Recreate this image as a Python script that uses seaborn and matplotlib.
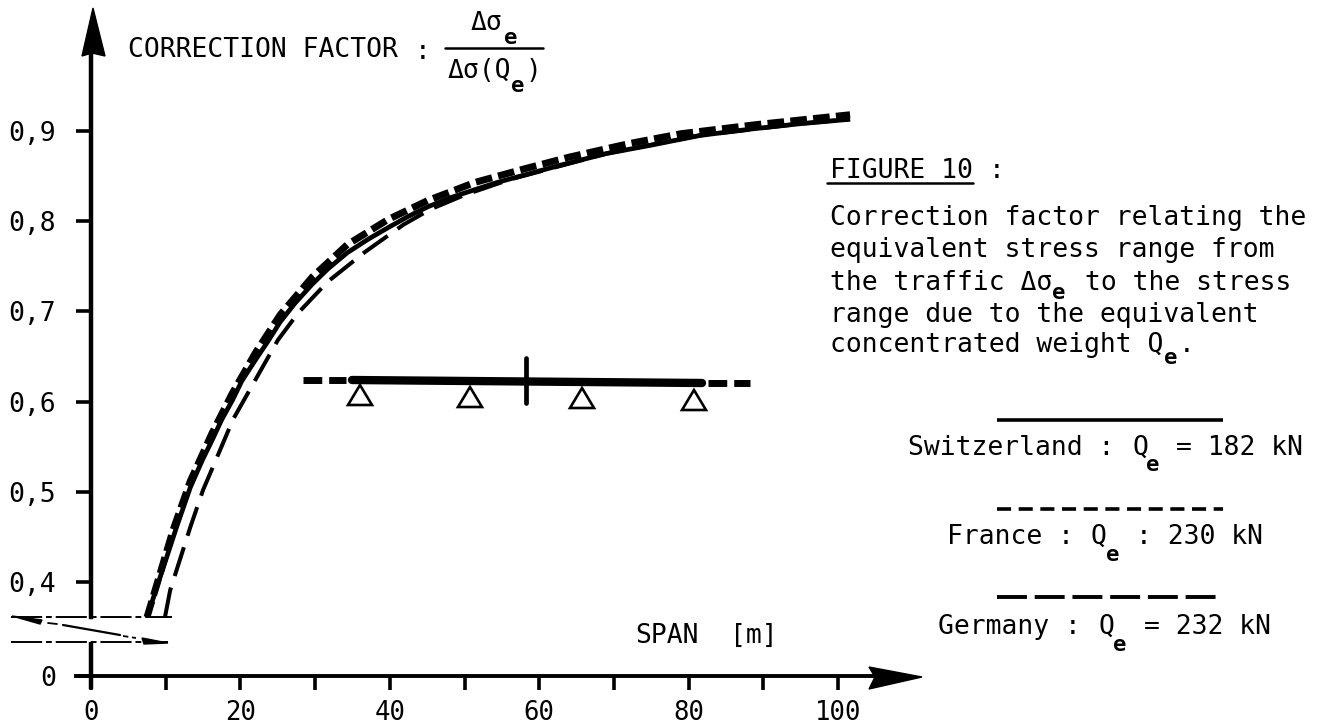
import pandas as pd
import matplotlib.pyplot as plt
import seaborn as sns
from matplotlib.patches import Polygon

# values
span_ch = [7.5, 11.5, 13.3, 14.9, 16.2, 17.5, 18.9, 20.2, 22.0, 23.7, 25.3, 27.3, 29.6, 31.7, 34.3, 37.1,
           39.8, 42.4, 45.1, 48.1, 51.4, 54.4, 62.8, 69.0, 74.8, 81.5, 88.2, 94.9, 101.6]
factor_ch = [0.361, 0.462, 0.505, 0.535, 0.557, 0.580, 0.601, 0.623, 0.646, 0.667, 0.688, 0.709, 0.730, 0.747,
             0.765, 0.780, 0.793, 0.805, 0.816, 0.826, 0.835, 0.843, 0.862, 0.875, 0.884, 0.895, 0.902, 0.908, 0.913]
span_fr = [7.5, 11.0, 13.3, 16.2, 18.9, 22.0, 25.3, 29.6, 34.3, 39.8, 45.1, 51.4, 58.0, 64.0, 72.0, 79.0, 89.0, 101.6]
factor_fr = [0.361, 0.458, 0.512, 0.565, 0.609, 0.654, 0.696, 0.738, 0.774, 0.802, 0.823, 0.843, 0.858, 0.871,
             0.886, 0.897, 0.907, 0.918]
span_de = [9.9, 10.6, 13.3, 15.0, 16.6, 19.0, 22.2, 25.0, 27.7, 31.7, 36.7, 41.8, 45.4, 50.0, 56.0, 69.0, 81.5, 94.9, 101.6]
factor_de = [0.361, 0.391, 0.461, 0.502, 0.533, 0.580, 0.627, 0.668, 0.698, 0.733, 0.766, 0.796, 0.813, 0.829, 0.846,
             0.875, 0.895, 0.908, 0.913]

x_ticks = [0, 10, 20, 30, 40, 50, 60, 70, 80, 90, 100]
x_labels = ['0', '', '20', '', '40', '', '60', '', '80', '', '100']
y_zero = 0.296  # the axis is broken, the 0 sits just below the break
y_ticks = [y_zero, 0.4, 0.5, 0.6, 0.7, 0.8, 0.9]
y_labels = ['0', '0,4', '0,5', '0,6', '0,7', '0,8', '0,9']

df = pd.concat([
    pd.DataFrame({'span': span_fr, 'factor': factor_fr, 'country': 'France'}),
    pd.DataFrame({'span': span_ch, 'factor': factor_ch, 'country': 'Switzerland'}),
    pd.DataFrame({'span': span_de, 'factor': factor_de, 'country': 'Germany'}),
])

sns.set_theme(style='white')
plt.rcParams['font.family'] = ['DejaVu Sans Mono', 'DejaVu Sans']

fig = plt.figure(figsize=(13.2, 7.27), dpi=100)
ax = fig.add_axes([0, 0, 1, 1])
sns.lineplot(data=df, x='span', y='factor', hue='country', style='country', size='country',
             palette={'Switzerland': 'black', 'France': 'black', 'Germany': 'black'},
             dashes={'Switzerland': '', 'France': (2.4, 0.9), 'Germany': (7.5, 3.0)},
             sizes={'Switzerland': 3.4, 'France': 5.0, 'Germany': 2.9},
             estimator=None, sort=False, legend=False, ax=ax)
for line in ax.lines:
    line.set_solid_capstyle('butt')

ax.set_xlim(-12.18, 164.5)
ax.set_ylim(0.2392, 1.0452)
ax.set_xlabel('')
ax.set_ylabel('')
ax.set_xticks(x_ticks)
ax.set_xticklabels(x_labels)
ax.set_yticks(y_ticks)
ax.set_yticklabels(y_labels)
ax.tick_params(axis='x', direction='out', length=10, width=2.6, pad=7.5, labelsize=18.5, bottom=True, colors='black')
ax.tick_params(axis='y', direction='out', length=10.5, width=2.6, pad=14.5, labelsize=19, left=True, colors='black')

for side in ['top', 'right']:
    ax.spines[side].set_visible(False)
ax.spines['left'].set_position(('data', 0))
ax.spines['left'].set_bounds(0.361, 0.99)
ax.spines['left'].set_linewidth(3.2)
ax.spines['left'].set_color('black')
ax.spines['bottom'].set_position(('data', y_zero))
ax.spines['bottom'].set_bounds(-2, 105)
ax.spines['bottom'].set_linewidth(2.8)
ax.spines['bottom'].set_color('black')
ax.plot([0, 0], [y_zero - 0.015, 0.333], color='black', lw=3.2, solid_capstyle='butt')

# everything below is annotation, placed in picture pixels
ov = fig.add_axes([0, 0, 1, 1])
ov.set_xlim(0, 1320)
ov.set_ylim(727, 0)
ov.axis('off')
ov.patch.set_alpha(0)

# arrow heads
ov.add_patch(Polygon([(93, 8), (105, 56), (92, 53), (82, 56)], color='black'))
ov.add_patch(Polygon([(922, 677), (869, 689), (875, 677), (869, 667)], color='black'))

# axis break
ov.plot([11, 172], [617, 617], color='black', lw=1.4, dashes=(16, 2, 3, 2))
ov.plot([11, 168], [642, 642], color='black', lw=1.4, dashes=(16, 2, 3, 2))
ov.plot([63, 120], [625, 635], color='black', lw=1.6)
ov.plot([48, 57], [623, 624], color='black', lw=1.3)
ov.plot([123, 136], [636, 638], color='black', lw=1.3, dashes=(3, 2))
ov.add_patch(Polygon([(12, 616), (42, 620), (40, 624)], color='black'))
ov.add_patch(Polygon([(168, 643), (142, 638), (144, 644)], color='black'))

def txt(x, y, s, size=19, ha='left', **kw):
    ov.text(x, y, s, fontsize=size, ha=ha, va='center', color='black', **kw)

def sub_e(x, y):
    txt(x, y, 'e', size=16, ha='center', fontweight='bold')

# y axis title
txt(128, 50, 'CORRECTION FACTOR')
txt(423, 52, ':', ha='center')
txt(486, 23, 'Δσ', ha='center')
sub_e(511, 38)
ov.plot([445, 543], [48, 48], color='black', lw=1.8)
txt(448, 71, 'Δσ(Q')
txt(526, 71, ')')
sub_e(518, 86)

txt(635, 636, 'SPAN')
txt(730, 636, '[m]')

# caption
txt(830, 171, 'FIGURE 10')
txt(997, 171, ':', ha='center')
ov.plot([827, 973], [183, 183], color='black', lw=1.8)
txt(830, 218, 'Correction factor relating the')
txt(830, 250, 'equivalent stress range from')
txt(830, 283, 'the traffic Δσ')
sub_e(1059, 293)
txt(1291, 283, 'to the stress', ha='right')
txt(830, 315, 'range due to the equivalent')
txt(830, 345, 'concentrated weight Q')
sub_e(1171, 358)
txt(1187, 345, '.', ha='center')

# key
ov.plot([997, 1223], [420, 420], color='black', lw=2.6, solid_capstyle='butt')
ov.plot([997, 1223], [509, 509], color='black', lw=2.6, dashes=(3.9, 2.1))
ov.plot([997, 1223], [597, 597], color='black', lw=2.8, dashes=(7.7, 2.0))

txt(908, 448, 'Switzerland :')
txt(1132, 448, 'Q')
sub_e(1153, 465)
txt(1303, 448, '= 182 kN', ha='right')
txt(947, 537, 'France :')
txt(1090, 537, 'Q')
sub_e(1113, 555)
txt(1263, 537, ': 230 kN', ha='right')
txt(938, 627, 'Germany :')
txt(1098, 627, 'Q')
sub_e(1120, 645)
txt(1271, 627, '= 232 kN', ha='right')

# little continuous beam sketch
ov.plot([352, 702], [380, 383], color='black', lw=6, solid_capstyle='round', zorder=3)
ov.plot([303, 346], [380, 380], color='black', lw=5, dashes=(2.7, 1.0), zorder=3)
ov.plot([708, 750], [383, 383], color='black', lw=5, dashes=(2.7, 1.0), zorder=3)
ov.plot([526, 526], [358, 403], color='black', lw=3.4, zorder=3)
for tx, ty in [(360, 385), (470, 387), (582, 388), (694, 390)]:
    ov.add_patch(Polygon([(tx, ty), (tx - 12, ty + 20), (tx + 12, ty + 20)], closed=True,
                         facecolor='white', edgecolor='black', lw=1.9, zorder=2))

fig.savefig('out.png', dpi=100)
